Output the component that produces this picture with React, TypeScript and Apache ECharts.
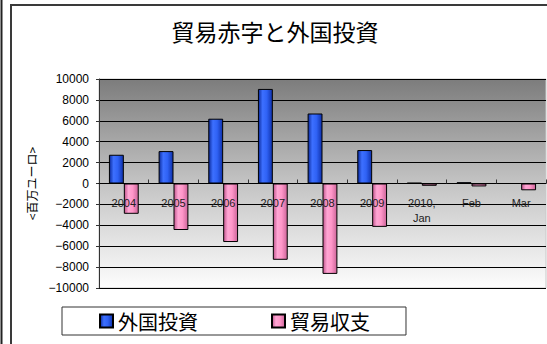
import React, { useEffect, useRef } from "react";
import * as echarts from "echarts";

const categories = ["2004", "2005", "2006", "2007", "2008", "2009", "2010,\nJan", "Feb", "Mar"];
const foreignInvestment = [2750, 3100, 6200, 9050, 6700, 3200, 60, 120, 0];
const tradeBalance = [-2900, -4450, -5600, -7300, -8650, -4150, -220, -280, -650];
const seriesNames = ["外国投資", "貿易収支"];
const titleText = "貿易赤字と外国投資";
const yAxisName = "<百万ユーロ>";

const NUM_FONT = "'Liberation Sans', Arial, 'Noto Sans CJK JP', sans-serif";
const JP_FONT = "'Noto Sans CJK JP', 'Liberation Sans', sans-serif";

export default function App() {
  const ref = useRef<HTMLDivElement>(null);
  useEffect(() => {
    if (!ref.current) return;
    const chart = echarts.init(ref.current, null, { renderer: "svg" });
    const blue = new echarts.graphic.LinearGradient(0, 0, 1, 0, [
      { offset: 0, color: "#0b2a9c" },
      { offset: 0.3, color: "#3d70ff" },
      { offset: 0.6, color: "#2f62f5" },
      { offset: 1, color: "#0f31aa" },
    ]);
    const pink = new echarts.graphic.LinearGradient(0, 0, 1, 0, [
      { offset: 0, color: "#c2568e" },
      { offset: 0.3, color: "#ffa6d4" },
      { offset: 0.6, color: "#ff96c9" },
      { offset: 1, color: "#cc6599" },
    ]);
    chart.setOption({
      animation: false,
      backgroundColor: "#ffffff",
      title: {
        text: titleText,
        left: 270,
        top: 14,
        textAlign: "center",
        textStyle: { fontFamily: JP_FONT, fontSize: 23, fontWeight: "normal", color: "#000" },
      },
      graphic: [
        { type: "line", shape: { x1: 1.5, y1: 0, x2: 1.5, y2: 344 }, style: { stroke: "#222", lineWidth: 2 } },
        { type: "rect", shape: { x: 11, y: 5, width: 700, height: 500 }, style: { fill: "none", stroke: "#3a3a3a", lineWidth: 2 } },
      ],
      legend: {
        data: seriesNames,
        left: 62,
        top: 307,
        orient: "horizontal",
        itemWidth: 13,
        itemHeight: 13,
        itemGap: 73,
        padding: [4, 36, 4, 37],
        borderColor: "#333",
        borderWidth: 1,
        backgroundColor: "#fff",
        icon: "rect",
        textStyle: { fontFamily: JP_FONT, fontSize: 20, color: "#000" },
      },
      grid: {
        left: 99,
        top: 79,
        right: 1,
        bottom: 56,
        show: true,
        borderColor: "#c8c8c8",
        borderWidth: 1,
        backgroundColor: new echarts.graphic.LinearGradient(0, 0, 0, 1, [
          { offset: 0, color: "#7c7c7c" },
          { offset: 0.5, color: "#c4c4c4" },
          { offset: 1, color: "#fdfdfd" },
        ]),
      },
      xAxis: {
        type: "category",
        data: categories,
        position: "bottom",
        offset: -104.5,
        axisLine: { onZero: false, lineStyle: { color: "#000", width: 1 } },
        axisTick: { show: true, inside: true, length: 4, lineStyle: { color: "#333" } },
        axisLabel: {
          margin: 12,
          fontFamily: NUM_FONT,
          fontSize: 11,
          color: "#222",
          lineHeight: 15,
        },
        splitLine: { show: false },
        z: 5,
      },
      yAxis: {
        type: "value",
        min: -10000,
        max: 10000,
        interval: 2000,
        name: yAxisName,
        nameLocation: "middle",
        nameRotate: 90,
        nameGap: 47,
        nameTextStyle: { fontFamily: JP_FONT, fontSize: 12, color: "#000" },
        axisLine: { show: true, lineStyle: { color: "#333", width: 1 } },
        axisTick: { show: true, length: 3, lineStyle: { color: "#333" } },
        axisLabel: {
          margin: 10,
          fontFamily: NUM_FONT,
          fontSize: 12,
          color: "#000",
          formatter: (v: number) => String(v).replace("-", "\u2212"),
        },
        splitLine: { show: true, lineStyle: { color: "#000", width: 1 } },
      },
      series: [
        {
          name: seriesNames[0],
          type: "bar",
          data: foreignInvestment,
          barGap: "0%",
          barCategoryGap: "40%",
          itemStyle: { color: blue, borderColor: "#000", borderWidth: 1 },
        },
        {
          name: seriesNames[1],
          type: "bar",
          data: tradeBalance,
          barGap: "0%",
          barCategoryGap: "40%",
          itemStyle: { color: pink, borderColor: "#000", borderWidth: 1 },
        },
      ],
    });
    return () => chart.dispose();
  }, []);
  return (
    <div
      ref={ref}
      style={{ position: "absolute", left: 0, top: 0, width: 547, height: 344 }}
    />
  );
}
